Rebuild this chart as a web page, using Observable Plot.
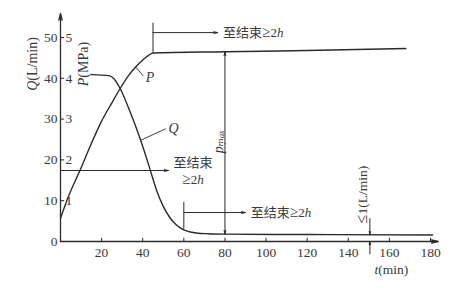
<!DOCTYPE html>
<html><head><meta charset="utf-8">
<script src="https://cdn.jsdelivr.net/npm/d3@7"></script>
<script src="https://cdn.jsdelivr.net/npm/@observablehq/plot@0.6"></script>
<style>body{margin:0;background:#fff} svg text{font-family:"Liberation Serif","Times New Roman","DejaVu Serif","Noto Sans CJK SC",serif !important}</style>
</head><body><div id="chart"></div>
<script>
// time ticks (min)
const xTicks = [20, 40, 60, 80, 100, 120, 140, 160, 180];
// left axis Q (L/min) and right-side P (MPa) tick labels
const qTicks = [0, 10, 20, 30, 40, 50];
const pTicks = [1, 2, 3, 4, 5];
// pressure curve P (MPa) vs t (min)
const pT = [0, 4, 10, 15, 20, 25, 29, 33, 37, 40, 43, 45, 80, 120, 168];
const pV = [0.57, 1.12, 1.8, 2.4, 2.95, 3.4, 3.75, 4.06, 4.3, 4.45, 4.57, 4.62, 4.65, 4.68, 4.73];
// flow curve Q (L/min) vs t (min)
const qT = [15, 24, 26, 29, 34, 39, 43, 47, 50, 53, 56, 59, 62, 66, 72, 80, 120, 181];
const qV = [40.9, 40.6, 39.9, 37.5, 31.6, 24.8, 18.6, 12.2, 8.6, 6.0, 4.2, 3.1, 2.5, 2.1, 1.9, 1.8, 1.7, 1.6];
// annotation texts
const endText = "至结束≥2h";
const endText1 = "至结束";
const endText2 = "≥2h";
const pmaxText = "pₘₐₓ";
const leakText = "≤1(L/min)";

const P = pT.map((t, i) => ({t, v: pV[i] * 10}));
const Q = qT.map((t, i) => ({t, v: qV[i]}));
const pAt = t => { for (let i = 1; i < pT.length; i++) if (t <= pT[i]) { const a = (t - pT[i-1]) / (pT[i] - pT[i-1]); return (pV[i-1] + a * (pV[i] - pV[i-1])) * 10; } return pV[pV.length-1]*10; };
const qAt = t => { for (let i = 1; i < qT.length; i++) if (t <= qT[i]) { const a = (t - qT[i-1]) / (qT[i] - qT[i-1]); return qV[i-1] + a * (qV[i] - qV[i-1]); } return qV[qV.length-1]; };

const ink = "#2b2b2b";
const txt = "#3a3a3a";
const font = "Liberation Serif, Times New Roman, DejaVu Serif, Noto Sans CJK SC, serif";
const T = (data, o) => Plot.text(data, {fontFamily: font, fill: txt, fontSize: 13, ...o});

const chart = Plot.plot({
  width: 453, height: 288,
  marginLeft: 60, marginRight: 23, marginTop: 37, marginBottom: 47,
  x: {domain: [0, 180], axis: null},
  y: {domain: [0, 50], axis: null},
  style: {fontFamily: font, background: "#fff"},
  marks: [
    // axes
    Plot.arrow([0], {x1: 0, y1: 0, x2: 0, y2: 55.9, stroke: ink, strokeWidth: 1.3, headLength: 8, headAngle: 28}),
    Plot.arrow([0], {x1: 0, y1: 0, x2: 183.8, y2: 0, stroke: ink, strokeWidth: 1.3, headLength: 8, headAngle: 28}),
    Plot.ruleX(xTicks, {x: d => d, y1: 0, y2: 0.8, stroke: ink, strokeWidth: 1}),
    Plot.ruleY(pTicks, {y: d => d * 10, x1: 0, x2: 2, stroke: ink, strokeWidth: 1}),
    T(xTicks, {x: d => d, y: 0, text: d => String(d), dy: 11, fontSize: 13.5}),
    T(qTicks, {x: 0, y: d => d, text: d => String(d), dx: -3, textAnchor: "end", fontSize: 13.5}),
    T(pTicks, {x: 0, y: d => d * 10, text: d => String(d), dx: 5, textAnchor: "start", fontSize: 13.5}),
    T(["Q(L/min)"], {x: 0, y: 43.5, dx: -28, rotate: -90, fontSize: 14}),
    T(["P(MPa)"], {x: 0, y: 43.5, dx: 23, rotate: -90, fontSize: 14}),
    T(["t(min)"], {x: 161, y: 0, dy: 28, fontSize: 13.5}),
    // curves
    Plot.line(P, {x: "t", y: "v", stroke: ink, strokeWidth: 1.4, curve: "monotone-x"}),
    Plot.line(Q, {x: "t", y: "v", stroke: ink, strokeWidth: 1.4, curve: "monotone-x"}),
    // curve labels
    Plot.line([{t: 36.6, v: pAt(36.6)}, {t: 40.2, v: 40.6}], {x: "t", y: "v", stroke: ink, strokeWidth: 0.9}),
    T(["P"], {x: 41.5, y: 40.2, textAnchor: "start", fontSize: 14, fontStyle: "italic"}),
    Plot.line([{t: 39, v: qAt(39)}, {t: 51, v: 27.6}], {x: "t", y: "v", stroke: ink, strokeWidth: 0.9}),
    T(["Q"], {x: 52.5, y: 27.6, textAnchor: "start", fontSize: 14, fontStyle: "italic"}),
    // top annotation (P hold)
    Plot.ruleX([45], {x: d => d, y1: pAt(45), y2: 53.5, stroke: ink, strokeWidth: 1}),
    Plot.arrow([0], {x1: 45, y1: 51.2, x2: 76.5, y2: 51.2, stroke: ink, strokeWidth: 1, headLength: 6, headAngle: 25}),
    T([endText], {x: 79, y: 51.2, textAnchor: "start"}),
    // middle annotation
    Plot.arrow([0], {x1: 0, y1: 17.4, x2: 52.5, y2: 17.4, stroke: ink, strokeWidth: 1, headLength: 6, headAngle: 25}),
    T([endText1], {x: 64.5, y: 19.4}),
    T([endText2], {x: 64.5, y: 15.2}),
    // bottom annotation (Q hold)
    Plot.ruleX([60], {x: d => d, y1: qAt(60), y2: 9.6, stroke: ink, strokeWidth: 1}),
    Plot.arrow([0], {x1: 60, y1: 7.1, x2: 90, y2: 7.1, stroke: ink, strokeWidth: 1, headLength: 6, headAngle: 25}),
    T([endText], {x: 92.5, y: 7.1, textAnchor: "start"}),
    // p_max double arrow
    Plot.arrow([0], {x1: 80, y1: 24, x2: 80, y2: pAt(80), stroke: ink, strokeWidth: 1, headLength: 6, headAngle: 25}),
    Plot.arrow([0], {x1: 80, y1: 24, x2: 80, y2: qAt(80), stroke: ink, strokeWidth: 1, headLength: 6, headAngle: 25}),
    T([pmaxText], {x: 76.8, y: 24.5, rotate: -90, fontSize: 14, fontStyle: "italic"}),
    // leakage annotation
    Plot.arrow([0], {x1: 150.5, y1: 5.6, x2: 150.5, y2: qAt(150.5), stroke: ink, strokeWidth: 1, headLength: 5, headAngle: 25}),
    Plot.arrow([0], {x1: 150.5, y1: -3, x2: 150.5, y2: 0, stroke: ink, strokeWidth: 1, headLength: 5, headAngle: 25}),
    T([leakText], {x: 147, y: 11.5, rotate: -90, fontSize: 13.5})
  ]
});

// rich text: italic symbol letters, larger inequality signs (still real text)
const ns = "http://www.w3.org/2000/svg";
chart.querySelectorAll("text").forEach(el => {
  if (el.querySelector("tspan")) return;
  const s = el.textContent;
  let segs = null;
  let m;
  if ((m = s.match(/^(Q|P|t)(\(.*\))$/))) segs = [[m[1], {"font-style": "italic"}], [m[2], {}]];
  else if ((m = s.match(/^(.*?)([≥≤])(.*?)(h?)$/))) {
    segs = [[m[1], {}], [m[2], {"font-size": "1.2em"}], [m[3], {}]];
    if (m[4]) segs.push([m[4], {"font-style": "italic"}]);
  }
  if (!segs) return;
  el.textContent = "";
  for (const [str, attrs] of segs) {
    if (!str) continue;
    const sp = document.createElementNS(ns, "tspan");
    sp.textContent = str;
    for (const k in attrs) sp.setAttribute(k, attrs[k]);
    el.appendChild(sp);
  }
});
document.getElementById("chart").appendChild(chart);
</script></body></html>
